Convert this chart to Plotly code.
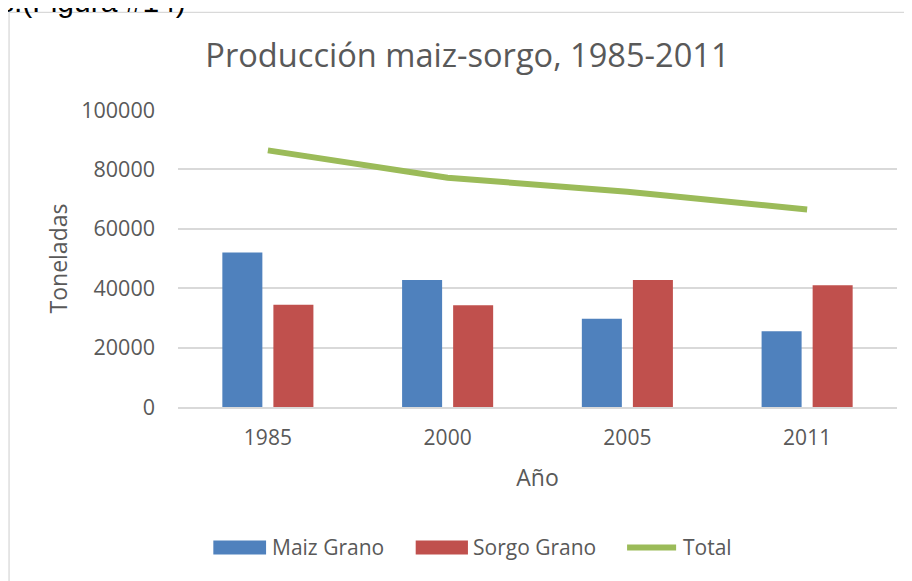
import plotly.graph_objects as go

# ---- data ----
years = ["1985", "2000", "2005", "2011"]
maiz_grano = [52000, 42800, 29700, 25500]
sorgo_grano = [34400, 34300, 42800, 41000]
total = [86400, 77200, 72500, 66500]
series_names = ["Maiz Grano", "Sorgo Grano", "Total"]
series_colors = ["#4F81BD", "#C0504D", "#9BBB59"]
y_ticks = [0, 20000, 40000, 60000, 80000, 100000]

title_text = "Producción maiz-sorgo, 1985-2011"
x_title = "Año"
y_title = "Toneladas"
caption_text = "s.(Figura #14)"

# ---- geometry (page pixels; the page body has an 8px margin) ----
OFF = 8
W, H = 912 - OFF, 581 - OFF
L, R, T, B = 178.3 - OFF, 15.3, 109.8 - OFF, 173.7
PW, PH = W - L - R, H - T - B


def px(x):
    return (x - OFF - L) / PW


def py(y):
    return (H - B - (y - OFF)) / PH


GRAY = "#595959"
FONT = "Open Sans"

fig = go.Figure()
fig.add_bar(x=years, y=maiz_grano, name=series_names[0],
            marker=dict(color=series_colors[0], line=dict(width=0)), showlegend=False)
fig.add_bar(x=years, y=sorgo_grano, name=series_names[1],
            marker=dict(color=series_colors[1], line=dict(width=0)), showlegend=False)
fig.add_scatter(x=years, y=total, name=series_names[2], mode="lines",
                line=dict(color=series_colors[2], width=6), showlegend=False)

shapes = []
annotations = []

# chart-area border
shapes.append(dict(type="rect", xref="paper", yref="paper",
                   x0=px(9.5), x1=px(940), y0=py(12), y1=py(640),
                   line=dict(color="#d9d9d9", width=1.3), layer="below"))

# custom legend
leg_y = 548
swatches = [(213.6, 266.3), (415.8, 468.0)]
text_x = [270.5, 471.5, 681.0]
for i, (a, b) in enumerate(swatches):
    shapes.append(dict(type="rect", xref="paper", yref="paper",
                       x0=px(a), x1=px(b), y0=py(leg_y + 7), y1=py(leg_y - 7),
                       fillcolor=series_colors[i], line=dict(width=0)))
shapes.append(dict(type="line", xref="paper", yref="paper",
                   x0=px(627), x1=px(676), y0=py(leg_y), y1=py(leg_y),
                   line=dict(color=series_colors[2], width=6)))
for i, name in enumerate(series_names):
    annotations.append(dict(text=name, xref="paper", yref="paper",
                            x=px(text_x[i]), y=py(leg_y), xanchor="left", yanchor="middle",
                            showarrow=False, font=dict(family=FONT, size=21, color=GRAY)))

# cut-off text at top-left of the page
annotations.append(dict(text=caption_text, xref="paper", yref="paper",
                        x=px(188), y=py(20), xanchor="right", yanchor="bottom",
                        showarrow=False,
                        font=dict(family="Liberation Sans", size=30, color="#000000")))

fig.update_layout(
    template="none",
    width=W, height=H,
    margin=dict(l=L, r=R, t=T, b=B, pad=0),
    autosize=False,
    paper_bgcolor="white", plot_bgcolor="white",
    font=dict(family=FONT, color=GRAY),
    title=dict(text=title_text, x=(467.5 - OFF) / W, xref="container", xanchor="center",
               y=1 - (55.5 - OFF) / H, yref="container", yanchor="middle",
               font=dict(family=FONT, size=32.6, color=GRAY)),
    barmode="group", bargap=0.432, bargroupgap=0.216,
    showlegend=False,
    shapes=shapes, annotations=annotations,
    xaxis=dict(type="category", showgrid=False, zeroline=False,
               showline=True, linecolor="#d9d9d9", linewidth=1.5,
               ticks="", ticklabelstandoff=11,
               tickfont=dict(family=FONT, size=21, color=GRAY),
               title=dict(text=x_title, font=dict(family=FONT, size=23, color=GRAY), standoff=20),
               automargin=False),
    yaxis=dict(range=[0, 100000], tickvals=y_ticks, ticktext=[str(v) for v in y_ticks],
               showgrid=True, gridcolor="#d9d9d9", gridwidth=1.5,
               zeroline=False, showline=False, ticks="",
               ticklabelstandoff=22,
               tickfont=dict(family=FONT, size=21.5, color=GRAY),
               title=dict(text=y_title, font=dict(family=FONT, size=23, color=GRAY), standoff=7),
               automargin=False),
)

fig.write_html("out.html")
